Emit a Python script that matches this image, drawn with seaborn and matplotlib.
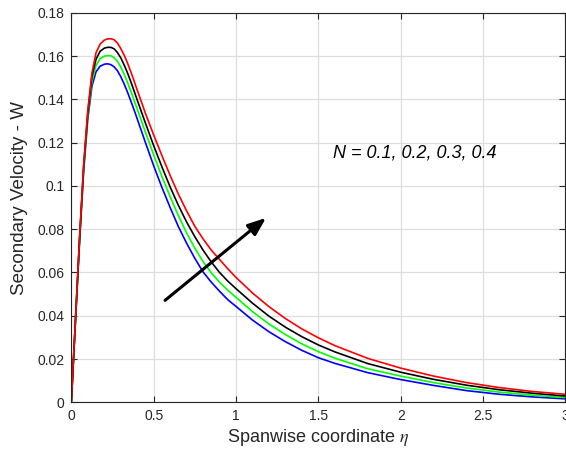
import numpy as np
import pandas as pd
import seaborn as sns
import matplotlib.pyplot as plt

# spanwise coordinate (eta) where the curves were read
eta = [0, 0.025, 0.05, 0.075, 0.1, 0.125, 0.15, 0.175, 0.2, 0.22, 0.24, 0.26, 0.28,
       0.3, 0.32, 0.34, 0.36, 0.38, 0.4, 0.45, 0.5, 0.55, 0.6, 0.65, 0.7, 0.75,
       0.8, 0.85, 0.9, 0.95, 1.0, 1.1, 1.2, 1.3, 1.4, 1.5, 1.6, 1.8, 2.0, 2.2,
       2.4, 2.6, 2.8, 3.0]

# secondary velocity W for N = 0.1, 0.2, 0.3, 0.4
w_n01 = [0, 0.037, 0.074, 0.107, 0.131, 0.146, 0.1527, 0.1553, 0.1562, 0.1564, 0.1560,
         0.1550, 0.1532, 0.1505, 0.1472, 0.1435, 0.1395, 0.1353, 0.1310, 0.1200, 0.1093,
         0.0993, 0.0900, 0.0812, 0.0735, 0.0665, 0.0602, 0.0555, 0.0513, 0.0474, 0.0443,
         0.0380, 0.0326, 0.0280, 0.0240, 0.0206, 0.0180, 0.0137, 0.0105, 0.0078, 0.0054,
         0.0037, 0.0025, 0.0016]
w_n02 = [0, 0.0374, 0.0748, 0.108, 0.1322, 0.1482, 0.1556, 0.1588, 0.1599, 0.1602, 0.1601,
         0.1592, 0.1575, 0.1550, 0.1517, 0.1480, 0.1440, 0.1398, 0.1355, 0.1248, 0.1143,
         0.1043, 0.0950, 0.0862, 0.0782, 0.0712, 0.0650, 0.0598, 0.0555, 0.0518, 0.0485,
         0.0419, 0.0362, 0.0313, 0.0270, 0.0234, 0.0204, 0.0155, 0.0121, 0.0091, 0.0066,
         0.0047, 0.0033, 0.0022]
w_n03 = [0, 0.0378, 0.0755, 0.109, 0.1335, 0.1505, 0.1585, 0.1622, 0.1636, 0.1640, 0.1640,
         0.1633, 0.1616, 0.1592, 0.1560, 0.1524, 0.1484, 0.1441, 0.1397, 0.1290, 0.1186,
         0.1088, 0.0995, 0.0910, 0.0833, 0.0765, 0.0703, 0.0648, 0.0600, 0.0560, 0.0525,
         0.0458, 0.0398, 0.0347, 0.0303, 0.0265, 0.0233, 0.0179, 0.0139, 0.0106, 0.0079,
         0.0058, 0.0042, 0.0029]
w_n04 = [0, 0.038, 0.076, 0.110, 0.135, 0.152, 0.1615, 0.1655, 0.1673, 0.1679, 0.1680,
         0.1675, 0.1660, 0.1635, 0.1605, 0.1570, 0.1530, 0.1487, 0.1443, 0.1335, 0.1235,
         0.1140, 0.1048, 0.0962, 0.0884, 0.0813, 0.0755, 0.0703, 0.0660, 0.0617, 0.0577,
         0.0505, 0.0442, 0.0387, 0.0339, 0.0298, 0.0262, 0.0203, 0.0158, 0.0121, 0.0091,
         0.0068, 0.0050, 0.0037]

n_labels = ["0.1", "0.2", "0.3", "0.4"]
line_colors = ["#0000ff", "#00ff00", "#000000", "#ff0000"]

frames = []
for lab, w in zip(n_labels, [w_n01, w_n02, w_n03, w_n04]):
    frames.append(pd.DataFrame({"eta": eta, "W": w, "N": lab}))
df = pd.concat(frames, ignore_index=True)

sns.set_theme(style="white")
plt.rcParams['font.family'] = ['Liberation Sans', 'DejaVu Sans']
plt.rcParams['mathtext.fontset'] = 'stix'

fig = plt.figure(figsize=(5.66, 4.59), dpi=100)
ax = fig.add_axes([0.126, 0.1235, 0.873, 0.8488])

sns.lineplot(data=df, x="eta", y="W", hue="N", palette=dict(zip(n_labels, line_colors)),
             linewidth=1.2, legend=False, ax=ax)

ax.set_xlim(0, 3)
ax.set_ylim(0, 0.18)
ax.set_xticks([0, 0.5, 1, 1.5, 2, 2.5, 3])
ax.set_xticklabels(["0", "0.5", "1", "1.5", "2", "2.5", "3"])
ax.set_yticks(np.arange(0, 0.181, 0.02))
ax.set_yticklabels(["0", "0.02", "0.04", "0.06", "0.08", "0.1", "0.12", "0.14", "0.16", "0.18"])
ax.grid(True, color="#dedede", linewidth=0.9)
ax.set_axisbelow(True)
ax.tick_params(direction="in", length=4, width=0.8, colors="#262626", labelsize=10,
               top=True, right=True, bottom=True, left=True, pad=5)
for sp in ax.spines.values():
    sp.set_color("#262626")
    sp.set_linewidth(0.8)

ax.set_xlabel(r"Spanwise coordinate $\eta$", fontsize=13, color="#262626", labelpad=3)
ax.set_ylabel("Secondary Velocity - W", fontsize=13.5, color="#262626")
ax.yaxis.set_label_coords(-0.088, 0.525)

ax.text(1.59, 0.1151, "N = 0.1, 0.2, 0.3, 0.4", fontsize=13, style="italic",
        va="center", ha="left", color="black")
ax.annotate("", xy=(1.182, 0.0852), xytext=(0.569, 0.0471),
            arrowprops=dict(arrowstyle="-|>,head_length=0.9,head_width=0.35",
                            color="black", lw=2.2, shrinkA=0, shrinkB=0))

fig.savefig("out.png", dpi=100)
